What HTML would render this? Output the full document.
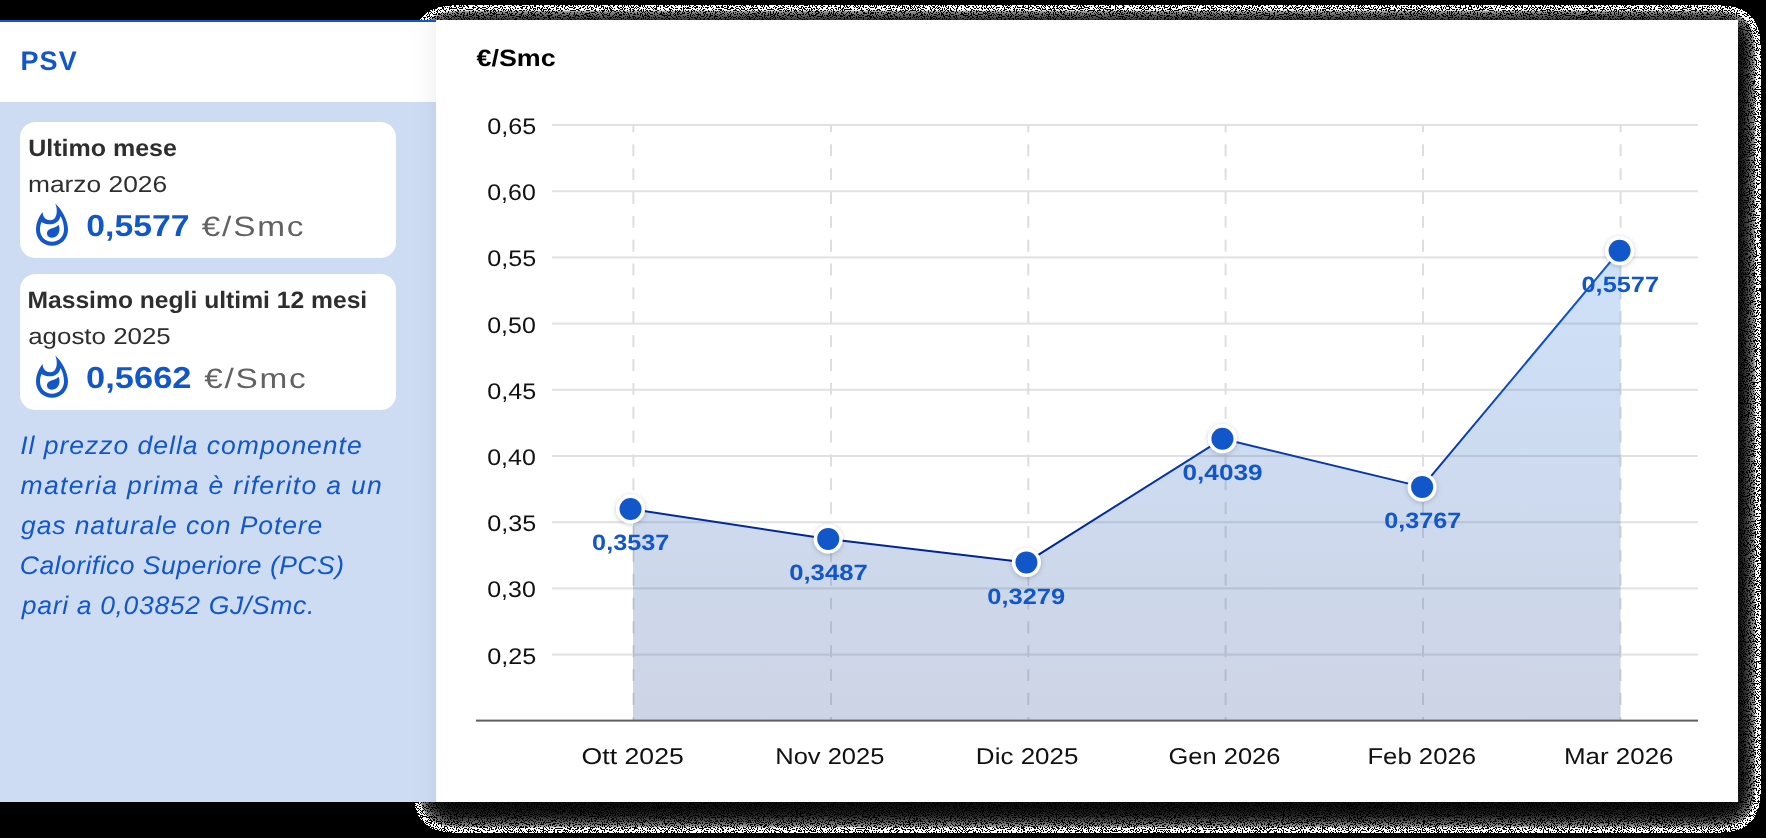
<!DOCTYPE html>
<html><head><meta charset="utf-8"><title>PSV</title>
<style>html,body{margin:0;padding:0;background:#000;}svg{display:block;will-change:transform;text-rendering:geometricPrecision;font-family:"Liberation Sans",sans-serif;}</style>
</head><body>
<svg width="1766" height="838" viewBox="0 0 1766 838">
<defs>
<linearGradient id="lsh" x1="0" x2="1" y1="0" y2="0"><stop offset="0" stop-color="#0a1e50" stop-opacity="0"/><stop offset="0.3" stop-color="#0a1e50" stop-opacity="0.007"/><stop offset="0.55" stop-color="#0a1e50" stop-opacity="0.016"/><stop offset="0.78" stop-color="#0a1e50" stop-opacity="0.03"/><stop offset="1" stop-color="#0a1e50" stop-opacity="0.048"/></linearGradient>
<linearGradient id="ag" gradientUnits="userSpaceOnUse" x1="0" y1="250" x2="0" y2="720"><stop offset="0" stop-color="#3b88e8" stop-opacity="0.25"/><stop offset="1" stop-color="#1e3c8c" stop-opacity="0.22"/></linearGradient>
<linearGradient id="lg" gradientUnits="userSpaceOnUse" x1="0" y1="250" x2="0" y2="565"><stop offset="0" stop-color="#125ad2"/><stop offset="0.45" stop-color="#0a48bb"/><stop offset="1" stop-color="#00228a"/></linearGradient>
<filter id="dsh" filterUnits="userSpaceOnUse" x="380" y="0" width="1386" height="838" color-interpolation-filters="sRGB">
<feGaussianBlur in="SourceAlpha" stdDeviation="12.0" result="blur"/>
<feComponentTransfer in="blur" result="g0"><feFuncA type="table" tableValues="1.000 1.000 1.000 1.000 1.000 1.000 1.000 0.819 0.599 0.546 0.511 0.478 0.445 0.420 0.395 0.371 0.348 0.329 0.311 0.293 0.274 0.261 0.249 0.237 0.225 0.213 0.202 0.191 0.181 0.170 0.159 0.149 0.144 0.138 0.133 0.128 0.122 0.117 0.111 0.106 0.101 0.098 0.096 0.094 0.092 0.090 0.088 0.086 0.084 0.082 0.080 0.079 0.078 0.076 0.075 0.074 0.073 0.072 0.070 0.069 0.068 0.067 0.065 0.064 0.063 0.062 0.061 0.059 0.058 0.057 0.056 0.055 0.053 0.052 0.051 0.050 0.049 0.049 0.049 0.048 0.048 0.047 0.047 0.047 0.046 0.046 0.045 0.045 0.045 0.044 0.044 0.043 0.043 0.043 0.042 0.042 0.041 0.041 0.041 0.040 0.040"/></feComponentTransfer>
<feColorMatrix in="g0" type="matrix" values="0 0 0 1 0  0 0 0 1 0  0 0 0 1 0  0 0 0 0 1" result="grey"/>
<feComponentTransfer in="blur" result="mask"><feFuncA type="discrete" tableValues="0 1 1 1 1 1 1 1 1 1 1 1 1 1 1 1 1 1 1 1 1 1 1 1 1 1 1 1 1 1 1 1 1 1 1 1 1 1 1 1 1 1 1 1 1 1"/></feComponentTransfer>
<feTurbulence type="fractalNoise" baseFrequency="0.85" numOctaves="2" seed="7" result="noise"/>
<feColorMatrix in="noise" type="matrix" values="0 0 0 0 0  0 0 0 0 0  0 0 0 0 0  1 0 0 0 0" result="nA"/>
<feComponentTransfer in="nA" result="nmask"><feFuncA type="discrete" tableValues="0 0 0 0 0 0 0 0 0 0 0 0 0 0 0 0 0 0 0 0 0 0 0 1 1 1 1 1 1 1 1 1 1 1 1 1 1 1 1 1 1 1 1 1 1 1 1 1 1 1"/></feComponentTransfer>
<feComposite in="grey" in2="mask" operator="in" result="g1"/>
<feComposite in="g1" in2="nmask" operator="in"/>
</filter>
<filter id="ms" x="-50%" y="-50%" width="200%" height="200%"><feDropShadow dx="0" dy="1" stdDeviation="2.5" flood-color="#000" flood-opacity="0.22"/></filter>
</defs>
<rect x="0" y="0" width="1766" height="838" fill="#000"/>
<g id="shadow"><rect x="436" y="28" width="1302" height="782" fill="#fff" filter="url(#dsh)"/></g>
<rect x="0" y="20" width="436" height="82" fill="#fff"/>
<rect x="0" y="20" width="436" height="2" fill="#1257c9"/>
<rect x="0" y="102" width="436" height="700" fill="#cedcf3"/>
<rect x="410" y="22" width="26" height="780" fill="url(#lsh)"/>
<rect x="20" y="122" width="376" height="136" rx="15.5" fill="#fff"/>
<rect x="20" y="274" width="376" height="136" rx="15.5" fill="#fff"/>
<g transform="translate(36,203.5)"><path fill-rule="evenodd" fill="#1257c9" d="M19.2 0 C26 6 32 17 32 26 C32 35.5 25 42.2 16 42.2 C7 42.2 0 35.5 0 26 C0 19.5 3 13 6.6 8.6 C6.6 13 9.5 16.8 14 16.8 C19 16.8 21.5 12 20.6 5 C20.4 3 19.8 1.2 19.2 0 Z M5.6 18.4 C4.4 21 4 23.5 4 26 C4 33 9.2 38.3 16 38.3 C22.8 38.3 28 33 28 26 C28 21 26.8 16.5 24.6 12.4 C23.4 17.5 19.6 20.8 14 20.8 C10.6 20.8 7.6 19.9 5.6 18.4 Z"/><path fill="#1257c9" d="M22.7 21.2 C24.2 25.5 23.6 29 21.5 31.5 C19.5 34 15.5 35 13 33.5 C10.5 32 10.3 28.5 12.5 26.5 C15 24.5 19.5 24.5 22.7 21.2 Z"/></g>
<g transform="translate(36,355.5)"><path fill-rule="evenodd" fill="#1257c9" d="M19.2 0 C26 6 32 17 32 26 C32 35.5 25 42.2 16 42.2 C7 42.2 0 35.5 0 26 C0 19.5 3 13 6.6 8.6 C6.6 13 9.5 16.8 14 16.8 C19 16.8 21.5 12 20.6 5 C20.4 3 19.8 1.2 19.2 0 Z M5.6 18.4 C4.4 21 4 23.5 4 26 C4 33 9.2 38.3 16 38.3 C22.8 38.3 28 33 28 26 C28 21 26.8 16.5 24.6 12.4 C23.4 17.5 19.6 20.8 14 20.8 C10.6 20.8 7.6 19.9 5.6 18.4 Z"/><path fill="#1257c9" d="M22.7 21.2 C24.2 25.5 23.6 29 21.5 31.5 C19.5 34 15.5 35 13 33.5 C10.5 32 10.3 28.5 12.5 26.5 C15 24.5 19.5 24.5 22.7 21.2 Z"/></g>
<rect x="436" y="20" width="1302" height="782" fill="#fff"/>
<rect x="552" y="124.00" width="1146" height="2" fill="#e2e2e2"/>
<rect x="552" y="190.20" width="1146" height="2" fill="#e2e2e2"/>
<rect x="552" y="256.40" width="1146" height="2" fill="#e2e2e2"/>
<rect x="552" y="322.60" width="1146" height="2" fill="#e2e2e2"/>
<rect x="552" y="388.80" width="1146" height="2" fill="#e2e2e2"/>
<rect x="552" y="455.00" width="1146" height="2" fill="#e2e2e2"/>
<rect x="552" y="521.20" width="1146" height="2" fill="#e2e2e2"/>
<rect x="552" y="587.40" width="1146" height="2" fill="#e2e2e2"/>
<rect x="552" y="653.60" width="1146" height="2" fill="#e2e2e2"/>
<line x1="633.4" y1="125" x2="633.4" y2="720" stroke="#dedede" stroke-width="2" stroke-dasharray="11.9 11.96" stroke-dashoffset="4.56"/>
<line x1="831.0" y1="125" x2="831.0" y2="720" stroke="#dedede" stroke-width="2" stroke-dasharray="11.9 11.96" stroke-dashoffset="4.56"/>
<line x1="1028.3" y1="125" x2="1028.3" y2="720" stroke="#dedede" stroke-width="2" stroke-dasharray="11.9 11.96" stroke-dashoffset="4.56"/>
<line x1="1225.6" y1="125" x2="1225.6" y2="720" stroke="#dedede" stroke-width="2" stroke-dasharray="11.9 11.96" stroke-dashoffset="4.56"/>
<line x1="1423.0" y1="125" x2="1423.0" y2="720" stroke="#dedede" stroke-width="2" stroke-dasharray="11.9 11.96" stroke-dashoffset="4.56"/>
<line x1="1620.6" y1="125" x2="1620.6" y2="720" stroke="#dedede" stroke-width="2" stroke-dasharray="11.9 11.96" stroke-dashoffset="4.56"/>
<polygon fill="url(#ag)" points="633.0,720.0 633.0,509.4 828.2,538.9 1026.4,562.4 1222.4,438.8 1422.1,486.9 1619.6,250.8 1620.6,250.8 1620.6,720.0"/>
<rect x="476" y="719.6" width="1222" height="2" fill="#5f5f5f"/>
<polyline fill="none" stroke="url(#lg)" stroke-width="2" stroke-linejoin="round" points="630.5,509.0 828.2,538.9 1026.4,562.4 1222.4,438.8 1422.1,486.9 1619.6,250.8"/>
<circle cx="630.5" cy="509.0" r="14.5" fill="#fff" filter="url(#ms)"/>
<circle cx="630.5" cy="509.0" r="11" fill="#1257c9"/>
<circle cx="828.2" cy="538.9" r="14.5" fill="#fff" filter="url(#ms)"/>
<circle cx="828.2" cy="538.9" r="11" fill="#1257c9"/>
<circle cx="1026.4" cy="562.4" r="14.5" fill="#fff" filter="url(#ms)"/>
<circle cx="1026.4" cy="562.4" r="11" fill="#1257c9"/>
<circle cx="1222.4" cy="438.8" r="14.5" fill="#fff" filter="url(#ms)"/>
<circle cx="1222.4" cy="438.8" r="11" fill="#1257c9"/>
<circle cx="1422.1" cy="486.9" r="14.5" fill="#fff" filter="url(#ms)"/>
<circle cx="1422.1" cy="486.9" r="11" fill="#1257c9"/>
<circle cx="1619.6" cy="250.8" r="14.5" fill="#fff" filter="url(#ms)"/>
<circle cx="1619.6" cy="250.8" r="11" fill="#1257c9"/>
<text transform="translate(20.41,69.70) scale(1.0000,1)" font-size="27.0" font-weight="bold" letter-spacing="1.165" fill="#1257c9">PSV</text>
<text transform="translate(28.13,155.80) scale(1.0514,1)" font-size="23.8" font-weight="bold" fill="#2e2e2e">Ultimo mese</text>
<text transform="translate(27.95,191.80) scale(1.1462,1)" font-size="23.0" fill="#2e2e2e">marzo 2026</text>
<text transform="translate(86.24,235.80) scale(1.1149,1)" font-size="30.3" font-weight="bold" fill="#1257c9">0,5577</text>
<text transform="translate(201.70,235.80) scale(1.1900,1)" font-size="28" letter-spacing="1.532" fill="#626262">&#8364;/Smc</text>
<text transform="translate(27.46,307.90) scale(1.0359,1)" font-size="23.8" font-weight="bold" fill="#2e2e2e">Massimo negli ultimi 12 mesi</text>
<text transform="translate(28.19,343.70) scale(1.1259,1)" font-size="23.0" fill="#2e2e2e">agosto 2025</text>
<text transform="translate(86.12,387.80) scale(1.1366,1)" font-size="30.3" font-weight="bold" fill="#1257c9">0,5662</text>
<text transform="translate(204.30,387.80) scale(1.1900,1)" font-size="28" letter-spacing="1.469" fill="#626262">&#8364;/Smc</text>
<text transform="translate(20.17,453.90) scale(1.0400,1)" font-size="25.5" font-style="italic" letter-spacing="0.944" fill="#1257c9">Il prezzo della componente</text>
<text transform="translate(20.59,494.00) scale(1.0400,1)" font-size="25.5" font-style="italic" letter-spacing="1.268" fill="#1257c9">materia prima &#232; riferito a un</text>
<text transform="translate(21.00,534.10) scale(1.0400,1)" font-size="25.5" font-style="italic" letter-spacing="0.860" fill="#1257c9">gas naturale con Potere</text>
<text transform="translate(19.76,574.10) scale(1.0400,1)" font-size="25.5" font-style="italic" letter-spacing="0.452" fill="#1257c9">Calorifico Superiore (PCS)</text>
<text transform="translate(21.83,614.20) scale(1.0400,1)" font-size="25.5" font-style="italic" letter-spacing="0.636" fill="#1257c9">pari a 0,03852 GJ/Smc.</text>
<text transform="translate(476.50,66.20) scale(1.1386,1)" font-size="23.6" font-weight="bold" fill="#000">&#8364;/Smc</text>
<text transform="translate(487.21,134.00) scale(1.1142,1)" font-size="22.6" fill="#111">0,65</text>
<text transform="translate(487.22,200.20) scale(1.1049,1)" font-size="22.6" fill="#111">0,60</text>
<text transform="translate(487.21,266.40) scale(1.1142,1)" font-size="22.6" fill="#111">0,55</text>
<text transform="translate(487.22,332.60) scale(1.1049,1)" font-size="22.6" fill="#111">0,50</text>
<text transform="translate(487.21,398.80) scale(1.1142,1)" font-size="22.6" fill="#111">0,45</text>
<text transform="translate(487.22,465.00) scale(1.1049,1)" font-size="22.6" fill="#111">0,40</text>
<text transform="translate(487.21,531.20) scale(1.1142,1)" font-size="22.6" fill="#111">0,35</text>
<text transform="translate(487.22,597.40) scale(1.1049,1)" font-size="22.6" fill="#111">0,30</text>
<text transform="translate(487.21,663.60) scale(1.1142,1)" font-size="22.6" fill="#111">0,25</text>
<text transform="translate(581.55,763.90) scale(1.1689,1)" font-size="22.8" fill="#111">Ott 2025</text>
<text transform="translate(775.21,763.90) scale(1.1191,1)" font-size="22.8" fill="#111">Nov 2025</text>
<text transform="translate(975.87,763.90) scale(1.1400,1)" font-size="22.8" fill="#111">Dic 2025</text>
<text transform="translate(1168.51,763.90) scale(1.1176,1)" font-size="22.8" fill="#111">Gen 2026</text>
<text transform="translate(1367.39,763.90) scale(1.1277,1)" font-size="22.8" fill="#111">Feb 2026</text>
<text transform="translate(1563.97,763.90) scale(1.1376,1)" font-size="22.8" fill="#111">Mar 2026</text>
<text transform="translate(592.11,549.80) scale(1.1371,1)" font-size="22.2" font-weight="bold" fill="#1257c9">0,3537</text>
<text transform="translate(789.20,580.20) scale(1.1567,1)" font-size="22.2" font-weight="bold" fill="#1257c9">0,3487</text>
<text transform="translate(987.30,603.70) scale(1.1477,1)" font-size="22.2" font-weight="bold" fill="#1257c9">0,3279</text>
<text transform="translate(1182.48,479.70) scale(1.1807,1)" font-size="22.2" font-weight="bold" fill="#1257c9">0,4039</text>
<text transform="translate(1384.21,528.30) scale(1.1341,1)" font-size="22.2" font-weight="bold" fill="#1257c9">0,3767</text>
<text transform="translate(1581.51,292.20) scale(1.1417,1)" font-size="22.2" font-weight="bold" fill="#1257c9">0,5577</text>
</svg>
</body></html>
